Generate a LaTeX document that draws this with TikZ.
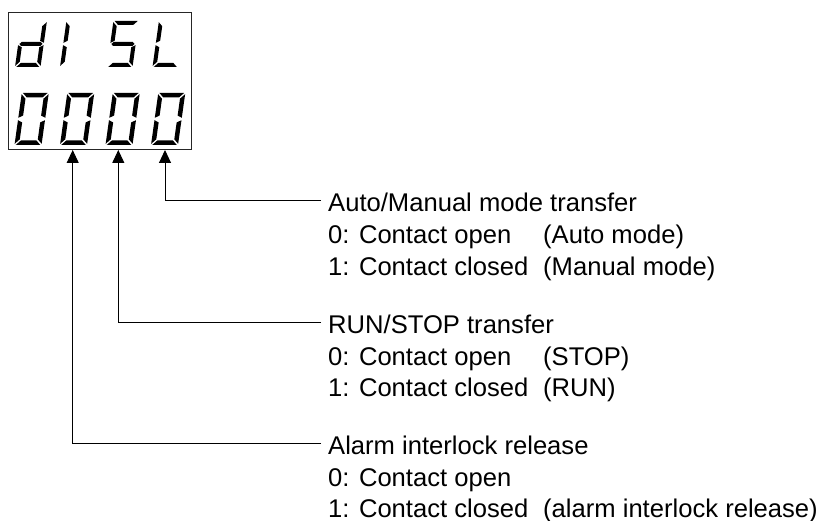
\documentclass[tikz,border=0pt]{standalone}
\usepackage{fontspec}
\setmainfont{Liberation Sans}
\usetikzlibrary{arrows.meta}
% seven-segment helpers
\newcommand\dsegA{\fill (\gd,\Hd) -- (\Wd-\gd,\Hd) -- (\Wd-\gd-\td,\Hd-\td) -- (\gd+\td,\Hd-\td) -- cycle;}
\newcommand\dsegD{\fill (\gd,0) -- (\Wd-\gd,0) -- (\Wd-\gd-\td,\td) -- (\gd+\td,\td) -- cycle;}
\newcommand\dsegG{\fill (\gd,\md) -- (\gd+\td/2,\md+\td/2) -- (\Wd-\gd-\td/2,\md+\td/2) -- (\Wd-\gd,\md) -- (\Wd-\gd-\td/2,\md-\td/2) -- (\gd+\td/2,\md-\td/2) -- cycle;}
\newcommand\dsegF{\fill (0,\Hd-\gd) -- (\td,\Hd-\gd-\td) -- (\td,\md+\gd+\td/2) -- (0,\md+\gd) -- cycle;}
\newcommand\dsegB{\fill (\Wd,\Hd-\gd) -- (\Wd-\td,\Hd-\gd-\td) -- (\Wd-\td,\md+\gd+\td/2) -- (\Wd,\md+\gd) -- cycle;}
\newcommand\dsegE{\fill (0,\gd) -- (\td,\gd+\td) -- (\td,\md-\gd-\td/2) -- (0,\md-\gd) -- cycle;}
\newcommand\dsegC{\fill (\Wd,\gd) -- (\Wd-\td,\gd+\td) -- (\Wd-\td,\md-\gd-\td/2) -- (\Wd,\md-\gd) -- cycle;}
% #1 x0, #2 y bottom, #3 width, #4 height, #5 thickness, #6 segments
\newcommand{\sevdigit}[6]{%
  \begin{scope}[shift={(#1,#2)}, x=1pt, y=1pt, xslant=0.14]
    \def\Wd{#3}\def\Hd{#4}\def\td{#5}\def\gd{1.2}%
    \pgfmathsetmacro\md{#4/2}%
    #6
  \end{scope}}
\begin{document}
\begin{tikzpicture}[x=1pt,y=-1pt,
  conn/.style={line width=1pt, -{Triangle[width=12pt,length=13pt]}},
  titletxt/.style={anchor=base west, inner xsep=7pt, inner ysep=0pt,
    text height=21.4pt, text depth=0pt, font=\fontsize{25.6}{30}\selectfont},
  bodytxt/.style={anchor=base west, inner sep=0pt, font=\fontsize{25.6}{30}\selectfont}]
\useasboundingbox (0,0) rectangle (837,521);

% display window
\node[draw=black!85, line width=1.1pt, minimum width=183pt, minimum height=137pt,
      inner sep=0pt, anchor=north west] (disp) at (8,11.7) {};

% top row: d I S L
\sevdigit{15}{67}{25.5}{46}{4}{\dsegB\dsegC\dsegD\dsegE\dsegG}
\sevdigit{60}{67}{25.5}{46}{4}{\dsegE\dsegF}
\sevdigit{107}{67}{25.5}{46}{4}{\dsegA\dsegF\dsegG\dsegC\dsegD}
\sevdigit{152.5}{67}{25.5}{46}{4}{\dsegF\dsegE\dsegD}
% bottom row: 0 0 0 0
\foreach \xo in {14.5,60,105.5,151}{
  \sevdigit{\xo}{145}{27}{52}{4.5}{\dsegA\dsegB\dsegC\dsegD\dsegE\dsegF}
}

% arrow tips
\coordinate (a1) at (165,150);
\coordinate (a2) at (118.3,150);
\coordinate (a3) at (72.7,150);

% group 1
\node[titletxt] (t1) at (321,211.7) {Auto/Manual mode transfer};
\node[bodytxt] (t1a) at (328,243.3) {0: Contact open};
\node[bodytxt] (p1a) at (543,243.3) {(Auto mode)};
\node[bodytxt] (t1b) at (328,275) {1: Contact closed};
\node[bodytxt] (p1b) at (543,275) {(Manual mode)};
% group 2
\node[titletxt] (t2) at (321,333.3) {RUN/STOP transfer};
\node[bodytxt] (t2a) at (328,365) {0: Contact open};
\node[bodytxt] (p2a) at (543,365) {(STOP)};
\node[bodytxt] (t2b) at (328,396.7) {1: Contact closed};
\node[bodytxt] (p2b) at (543,396.7) {(RUN)};
% group 3
\node[titletxt] (t3) at (321,454) {Alarm interlock release};
\node[bodytxt] (t3a) at (328,486) {0: Contact open};
\node[bodytxt] (t3b) at (328,517) {1: Contact closed};
\node[bodytxt] (p3b) at (543,517) {(alarm interlock release)};

% connectors
\draw[conn] (t1.west) -| (a1);
\draw[conn] (t2.west) -| (a2);
\draw[conn] (t3.west) -| (a3);
\end{tikzpicture}
\end{document}
